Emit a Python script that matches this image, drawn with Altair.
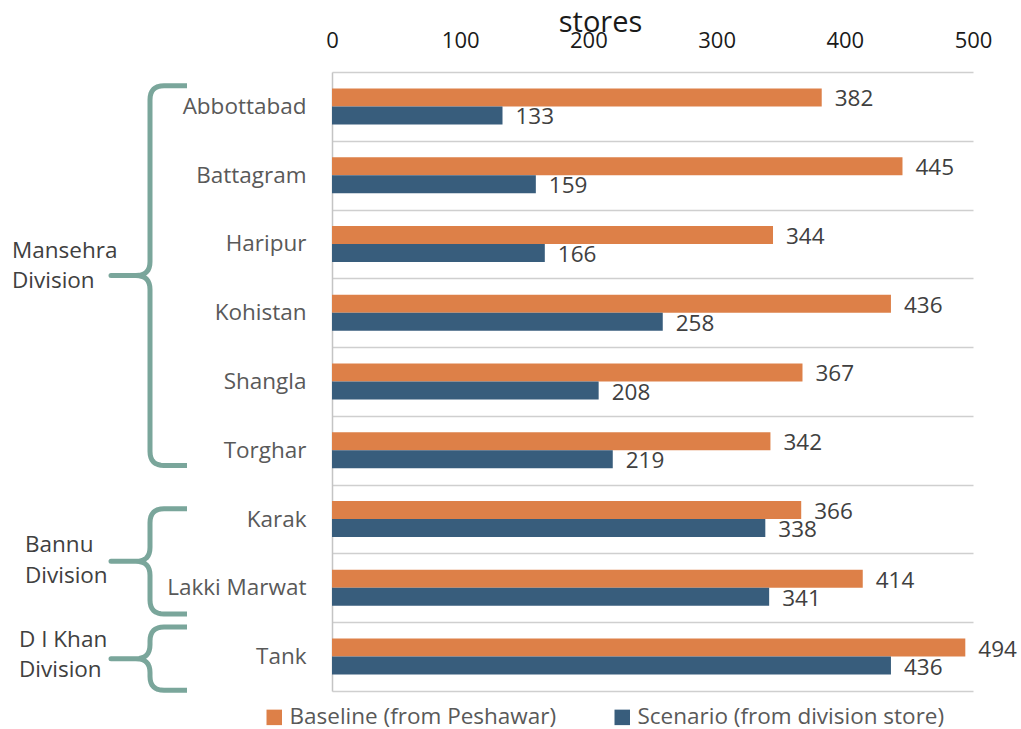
import altair as alt
import pandas as pd

# ---- data -------------------------------------------------------------
districts = ["Abbottabad", "Battagram", "Haripur", "Kohistan", "Shangla",
             "Torghar", "Karak", "Lakki Marwat", "Tank"]
baseline = [382, 445, 344, 436, 367, 342, 366, 414, 494]
scenario = [133, 159, 166, 258, 208, 219, 338, 341, 436]
series_names = ["Baseline (from Peshawar)", "Scenario (from division store)"]
series_colors = ["#DD8048", "#385D7C"]

# division groups: label lines, first and last district covered
division_lines = [["Mansehra", "Division"], ["Bannu", "Division"], ["D I Khan", "Division"]]
division_first = ["Abbottabad", "Karak", "Tank"]
division_last = ["Torghar", "Lakki Marwat", "Tank"]

# ---- layout -----------------------------------------------------------
W, H = 641, 619
BAND = H / len(districts)
FONT = "Open Sans"
FS = 22.5

rows = []
for d, b, s in zip(districts, baseline, scenario):
    rows.append({"district": d, "series": series_names[0], "value": b})
    rows.append({"district": d, "series": series_names[1], "value": s})
df = pd.DataFrame(rows)

y_enc = alt.Y("district:N", sort=districts,
              scale=alt.Scale(paddingInner=0, paddingOuter=0),
              axis=alt.Axis(title=None, tickBand="extent", grid=True,
                            gridColor="#CFCFCF", gridWidth=1.5,
                            domainColor="#C4C4C4", domainWidth=1.5,
                            ticks=False, tickSize=0, labelPadding=26,
                            labelFont=FONT, labelFontSize=FS,
                            labelColor="#595959", labelLimit=300))
yoff_enc = alt.YOffset("series:N", sort=series_names,
                       scale=alt.Scale(paddingInner=0, paddingOuter=0.91))
x_enc = alt.X("value:Q",
              scale=alt.Scale(domain=[0, 500], nice=False),
              axis=alt.Axis(orient="top", values=[0, 100, 200, 300, 400, 500],
                            title="stores", titleFont=FONT, titleFontSize=29,
                            titleFontWeight="normal", titleColor="#1A1A1A",
                            titleX=268, titleY=-41, titleAlign="center",
                            titleBaseline="alphabetic",
                            domain=False, ticks=False, tickSize=0, grid=False,
                            labelFont=FONT, labelFontSize=22, labelColor="#1A1A1A",
                            labelBaseline="alphabetic", labelPadding=25,
                            labelFlush=False))
color_enc = alt.Color("series:N", sort=series_names,
                      scale=alt.Scale(domain=series_names, range=series_colors),
                      legend=alt.Legend(title=None, orient="none", direction="horizontal",
                                        legendX=-69, legendY=634,
                                        symbolType="square", symbolSize=240,
                                        symbolStrokeWidth=0, symbolOpacity=1,
                                        labelFont=FONT, labelFontSize=FS,
                                        labelColor="#595959", labelOffset=4,
                                        labelLimit=500, columnPadding=54))

bars = alt.Chart(df).mark_bar(size=18, strokeWidth=0).encode(
    x=x_enc, y=y_enc, yOffset=yoff_enc, color=color_enc)

labels = alt.Chart(df).mark_text(align="left", baseline="middle", dx=13, dy=2,
                                 font=FONT, fontSize=FS, color="#404040").encode(
    x="value:Q", y=alt.Y("district:N", sort=districts),
    yOffset=alt.YOffset("series:N", sort=series_names), text="value:Q")

# ---- braces for the division groups -----------------------------------
X_END, X_SPINE, X_TIP, R = -145, -182, -221, 14


def quad(p0, c, p1, n=8):
    pts = []
    for k in range(1, n + 1):
        t = k / n
        x = (1 - t) ** 2 * p0[0] + 2 * (1 - t) * t * c[0] + t ** 2 * p1[0]
        y = (1 - t) ** 2 * p0[1] + 2 * (1 - t) * t * c[1] + t ** 2 * p1[1]
        pts.append((x, y))
    return pts


def brace(y_top, y_bot):
    y_mid = (y_top + y_bot) / 2
    pts = [(X_END, y_top), (X_SPINE + R, y_top)]
    pts += quad((X_SPINE + R, y_top), (X_SPINE, y_top), (X_SPINE, y_top + R))
    pts += [(X_SPINE, y_mid - R)]
    pts += quad((X_SPINE, y_mid - R), (X_SPINE, y_mid), (X_SPINE - R, y_mid))
    pts += [(X_TIP, y_mid), (X_SPINE - R, y_mid)]
    pts += quad((X_SPINE - R, y_mid), (X_SPINE, y_mid), (X_SPINE, y_mid + R))
    pts += [(X_SPINE, y_bot - R)]
    pts += quad((X_SPINE, y_bot - R), (X_SPINE, y_bot), (X_SPINE + R, y_bot))
    pts += [(X_END, y_bot)]
    return pts


# brace extents inside the first / last band (fractions of a band)
brace_top_frac = [0.20, 0.35, 0.07]
brace_bot_frac = [0.72, 0.88, 0.99]
# division label placement relative to the brace tip
label_x = [-320, -307, -313]
label_dy = [-18, -9, -12]

brace_rows, text_rows = [], []
for g, (lines, first, last) in enumerate(zip(division_lines, division_first, division_last)):
    y_top = (districts.index(first) + brace_top_frac[g]) * BAND
    y_bot = (districts.index(last) + brace_bot_frac[g]) * BAND
    for i, (px, py) in enumerate(brace(y_top, y_bot)):
        brace_rows.append({"group": g, "i": i, "px": px, "py": py})
    y_mid = (y_top + y_bot) / 2
    for j, line in enumerate(lines):
        text_rows.append({"px": label_x[g], "py": y_mid + label_dy[g] + 30.5 * j, "t": line})

braces = alt.Chart(pd.DataFrame(brace_rows)).mark_line(
    color="#7AA69B", strokeWidth=5, strokeJoin="round", strokeCap="butt").encode(
    x=alt.X("px:Q", scale=None), y=alt.Y("py:Q", scale=None),
    detail="group:N", order="i:Q")

div_text = alt.Chart(pd.DataFrame(text_rows)).mark_text(
    align="left", baseline="alphabetic", font=FONT, fontSize=FS, color="#404040").encode(
    x=alt.X("px:Q", scale=None), y=alt.Y("py:Q", scale=None), text="t:N")

chart = alt.layer(bars, labels, braces, div_text).properties(
    width=W, height=H,
    autosize=alt.AutoSizeParams(type="none"),
    padding={"left": 332, "top": 72, "right": 48, "bottom": 38},
    background="#FFFFFF",
).configure_view(stroke="transparent")

chart.save("out.html", embed_options={"renderer": "svg", "actions": False})
